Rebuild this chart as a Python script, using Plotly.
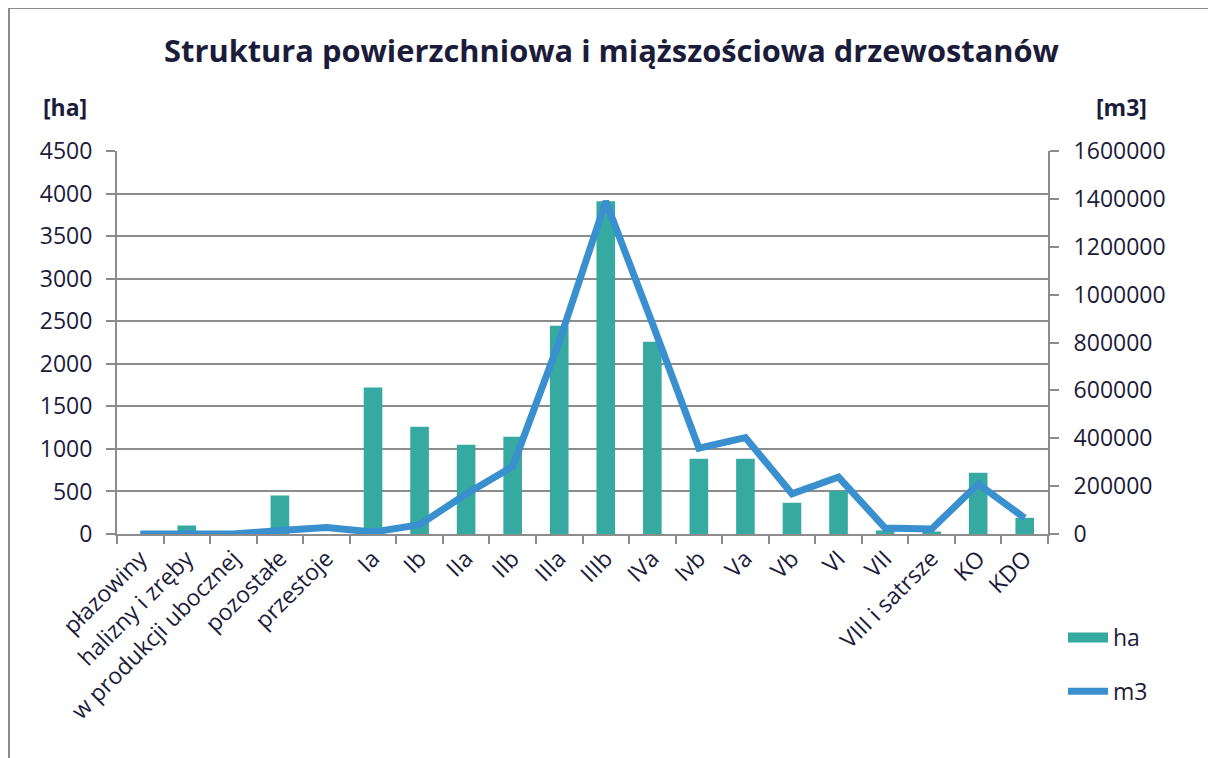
import plotly.graph_objects as go

categories = ["płazowiny", "halizny i zręby", "w produkcji ubocznej", "pozostałe", "przestoje",
              "Ia", "Ib", "IIa", "IIb", "IIIa", "IIIb", "IVa", "Ivb", "Va", "Vb", "VI", "VII",
              "VIII i satrsze", "KO", "KDO"]
ha_values = [0, 100, 0, 453, 0, 1721, 1260, 1048, 1142, 2446, 3909, 2258, 884, 884, 367, 508,
             42, 30, 720, 190]
m3_values = [0, 1000, 0, 15000, 27500, 8000, 39000, 167000, 282000, 804000, 1390000, 880000,
             359000, 403000, 168000, 238000, 25000, 21000, 209000, 67000]
left_ticks = [0, 500, 1000, 1500, 2000, 2500, 3000, 3500, 4000, 4500]
right_ticks = [0, 200000, 400000, 600000, 800000, 1000000, 1200000, 1400000, 1600000]

FONT = "Open Sans"
TXT = "#1b1b3a"
GRID = "#8c8c8c"
BAR = "#36aaa0"
LINE = "#3a90cf"
FS = 23

fig = go.Figure()
fig.add_trace(go.Bar(x=categories, y=ha_values, name="ha", marker_color=BAR,
                     marker_line_width=0, yaxis="y", showlegend=False, legendgroup="a"))
fig.add_trace(go.Scatter(x=[None], y=[None], name="ha", mode="lines",
                         line=dict(color=BAR, width=15), legendgroup="a", hoverinfo="skip"))
fig.add_trace(go.Scatter(x=categories, y=m3_values, name="m3", mode="lines",
                         line=dict(color=LINE, width=7), yaxis="y2", legendgroup="b"))

# figure is offset by the page's 8px body margin
W, H = 1208, 750
L, R, T, B = 109, 168, 143, 224
pw, ph = W - L - R, H - T - B

def px_x(p):
    return (p - L) / pw

def px_y(p):
    return (H - B - p) / ph

fig.update_layout(
    width=W, height=H,
    margin=dict(l=L, r=R, t=T, b=B),
    paper_bgcolor="white", plot_bgcolor="white",
    font=dict(family=FONT, size=FS, color=TXT),
    bargap=0.6,
    title=dict(text="<b>Struktura powierzchniowa i miąższościowa drzewostanów</b>",
               x=px_x(603.5), xanchor="center", xref="paper", y=1 - 43 / H, yanchor="middle",
               font=dict(family=FONT, size=30.8, color=TXT)),
    xaxis=dict(type="category", tickangle=-45, showgrid=False, showline=True,
               linecolor=GRID, linewidth=2, ticks="outside", ticklen=8, tickwidth=2,
               tickcolor=GRID, tickson="boundaries", tickfont=dict(size=FS)),
    yaxis=dict(range=[0, 4500], tickvals=left_ticks, showgrid=True, gridcolor=GRID,
               gridwidth=2, showline=True, linecolor=GRID, linewidth=2, ticks="outside",
               ticklen=9, tickwidth=2, tickcolor=GRID, zeroline=False, tickfont=dict(size=FS),
               ticklabelstandoff=9),
    yaxis2=dict(range=[0, 1600000], tickvals=right_ticks, overlaying="y", side="right",
                showgrid=False, showline=True, linecolor=GRID, linewidth=2, ticks="outside",
                ticklen=9, tickwidth=2, tickcolor=GRID, zeroline=False,
                tickformat="d", tickfont=dict(size=FS), ticklabelstandoff=10),
    legend=dict(x=px_x(1055), y=px_y(608), xanchor="left", yanchor="top",
                font=dict(size=FS), tracegroupgap=21, bgcolor="rgba(0,0,0,0)",
                itemwidth=40),
    showlegend=True,
    annotations=[
        dict(text="<b>[ha]</b>", x=px_x(57), y=px_y(99), xref="paper", yref="paper",
             showarrow=False, xanchor="center", yanchor="middle", font=dict(size=FS)),
        dict(text="<b>[m3]</b>", x=px_x(1113), y=px_y(99), xref="paper", yref="paper",
             showarrow=False, xanchor="center", yanchor="middle", font=dict(size=FS)),
    ],
    shapes=[
        dict(type="line", xref="paper", yref="paper", x0=px_x(0), x1=px_x(W + 10),
             y0=px_y(0), y1=px_y(0), line=dict(color=GRID, width=2)),
        dict(type="line", xref="paper", yref="paper", x0=px_x(1), x1=px_x(1),
             y0=px_y(0), y1=px_y(H + 10), line=dict(color=GRID, width=2)),
    ],
)

fig.write_html("out.html")
